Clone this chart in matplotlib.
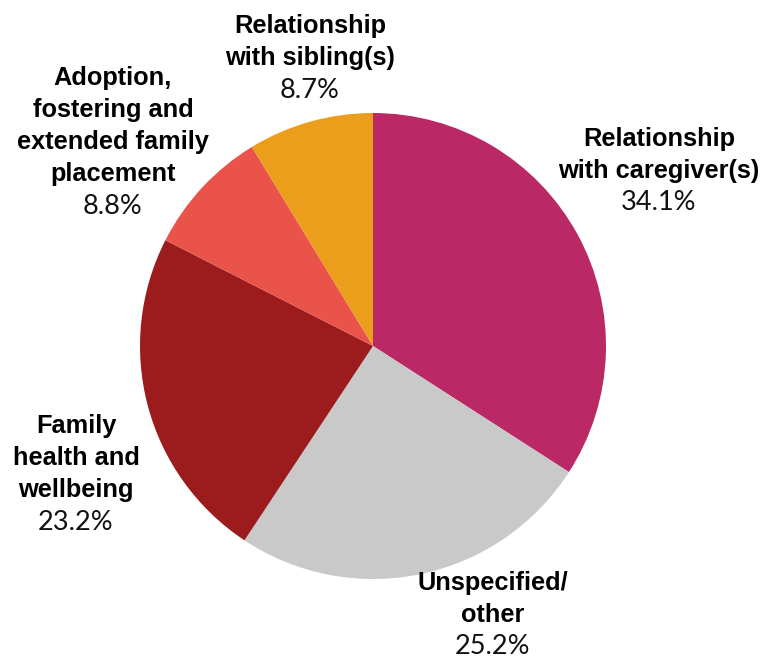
import matplotlib.pyplot as plt

categories = ["Relationship\nwith caregiver(s)", "Unspecified/\nother",
              "Family\nhealth and\nwellbeing",
              "Adoption,\nfostering and\nextended family\nplacement",
              "Relationship\nwith sibling(s)"]
shares = [34.1, 25.2, 23.2, 8.8, 8.7]
colors = ["#BA2865", "#C9C9C9", "#9C1C1E", "#EA5349", "#EA9E1C"]

# label anchor (centre x, first line centre y) in pixels from top-left
label_pos = [(659, 139), (493, 583), (76, 426), (113, 78), (310, 26)]

W, H = 768, 659
fig = plt.figure(figsize=(W / 100, H / 100), dpi=100)

cx, cy, r = 373, 346, 233
ax = fig.add_axes([(cx - r) / W, (H - cy - r) / H, 2 * r / W, 2 * r / H])
ax.pie(shares, colors=colors, startangle=90, counterclock=False,
       wedgeprops=dict(linewidth=0))
ax.set_aspect("equal")
ax.set_xlim(-1, 1)
ax.set_ylim(-1, 1)
ax.axis("off")

step = 32
for name, val, (x, y) in zip(categories, shares, label_pos):
    lines = name.split("\n")
    for k, line in enumerate(lines):
        fig.text(x / W, 1 - (y + k * step) / H, line, ha="center", va="center",
                 fontsize=18.3, fontweight="bold", family="Liberation Sans",
                 color="#000000")
    fig.text(x / W, 1 - (y + len(lines) * step) / H, f"{val}%", ha="center",
             va="center", fontsize=19.5, fontweight="normal",
             family=["Lato", "Liberation Sans"], color="#111111")

fig.savefig("out.png", dpi=100)
